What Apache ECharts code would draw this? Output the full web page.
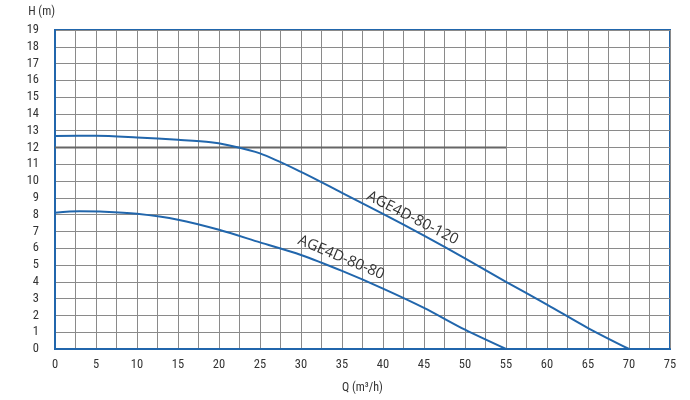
<!DOCTYPE html>
<html><head><meta charset="utf-8">
<script src="https://cdn.jsdelivr.net/npm/echarts@6/dist/echarts.min.js"></script>
<style>html,body{margin:0;padding:0;background:#fff}#c{width:690px;height:400px}</style>
</head><body><div id="c"></div>
<script>
const curve120Q = [0, 5, 10, 15, 19, 21, 25, 30, 35, 40, 45, 50, 55, 60, 65, 70];
const curve120H = [12.68, 12.70, 12.6, 12.46, 12.32, 12.15, 11.65, 10.55, 9.3, 8.05, 6.75, 5.4, 4.0, 2.65, 1.25, 0];
const curve80Q = [0, 3, 6, 10, 15, 20, 25, 30, 35, 40, 45, 50, 55];
const curve80H = [8.12, 8.2, 8.18, 8.05, 7.7, 7.1, 6.35, 5.6, 4.65, 3.6, 2.45, 1.15, 0];
const refLineQ = [0, 55];
const refLineH = [12, 12];
const seriesNames = ['AGE4D-80-120', 'AGE4D-80-80'];
const labelAt120 = [43.6, 7.8];
const labelAt80 = [34.9, 5.45];
const xTicks = {min: 0, max: 75, step: 5};
const yTicks = {min: 0, max: 19, step: 1};

const zip = (a, b) => a.map((v, i) => [v, b[i]]);
const lineBlue = '#2166ac';
const gridGray = '#8a8a8a';
const tickFont = '"Liberation Sans Narrow", "Roboto Condensed", "Liberation Sans", sans-serif';

function curveSeries(name, q, h, pos, rot) {
  return {
    name, type: 'line', smooth: 0.3, symbol: 'none',
    data: zip(q, h),
    lineStyle: {color: lineBlue, width: 2},
    markPoint: {
      symbol: 'circle', symbolSize: 0,
      data: [{coord: pos, value: name}],
      label: {show: true, position: 'inside', formatter: name, rotate: rot,
        color: '#333', fontSize: 15, fontFamily: '"Open Sans", "Noto Sans", sans-serif'}
    },
    z: 5
  };
}

const chart = echarts.init(document.getElementById('c'));
chart.setOption({
  animation: false,
  grid: {left: 55, right: 20, top: 30, bottom: 51, show: true, borderColor: lineBlue, borderWidth: 2, backgroundColor: 'transparent'},
  xAxis: {
    type: 'value', min: xTicks.min, max: xTicks.max, interval: xTicks.step,
    name: 'Q (m³/h)', nameLocation: 'middle', nameGap: 33,
    nameTextStyle: {color: '#333', fontSize: 12, fontFamily: tickFont},
    axisLine: {show: true, lineStyle: {color: lineBlue, width: 2}},
    axisTick: {show: false},
    axisLabel: {color: '#333', fontSize: 12.5, fontFamily: tickFont, margin: 9},
    splitLine: {show: true, lineStyle: {color: gridGray, width: 1}},
    minorTick: {show: false, splitNumber: 2},
    minorSplitLine: {show: true, lineStyle: {color: gridGray, width: 1}}
  },
  yAxis: {
    type: 'value', min: yTicks.min, max: yTicks.max, interval: yTicks.step,
    name: 'H (m)', nameLocation: 'end', nameGap: 12,
    nameTextStyle: {color: '#333', fontSize: 12, fontFamily: tickFont, align: 'right'},
    axisLine: {show: true, lineStyle: {color: lineBlue, width: 2}},
    axisTick: {show: false},
    axisLabel: {color: '#333', fontSize: 12.5, fontFamily: tickFont, margin: 16},
    splitLine: {show: true, lineStyle: {color: gridGray, width: 1}}
  },
  series: [
    {type: 'line', symbol: 'none', data: zip(refLineQ, refLineH), lineStyle: {color: '#666', width: 2}, z: 3, silent: true},
    curveSeries(seriesNames[0], curve120Q, curve120H, labelAt120, -27),
    curveSeries(seriesNames[1], curve80Q, curve80H, labelAt80, -23)
  ]
});
</script></body></html>
